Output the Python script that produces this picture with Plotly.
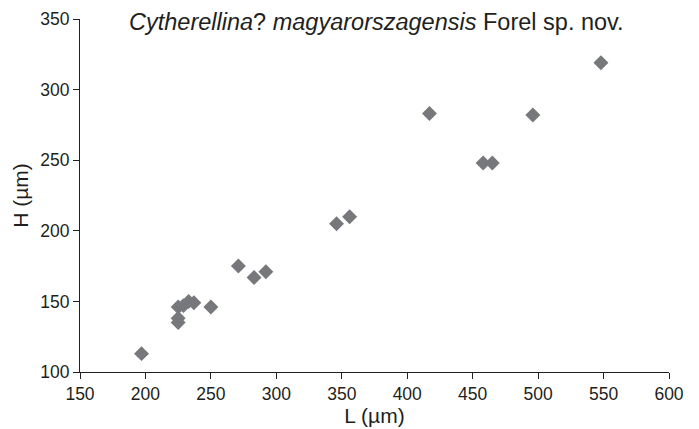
import plotly.graph_objects as go

# Data
L_um = [197, 225, 229, 233, 237, 225, 225, 250, 271, 283, 292, 346, 356, 417, 458, 465, 496, 548]
H_um = [113, 146, 147, 150, 149, 138, 135, 146, 175, 167, 171, 205, 210, 283, 248, 248, 282, 319]

x_ticks = [150, 200, 250, 300, 350, 400, 450, 500, 550, 600]
y_ticks = [100, 150, 200, 250, 300, 350]

title_html = "<i>Cytherellina</i>? <i>magyarorszagensis</i> Forel sp. nov."
x_title = "L (µm)"
y_title = "H (µm)"

FONT = "Liberation Sans, Arial, sans-serif"
TEXT = "#231f20"

fig = go.Figure(
    go.Scatter(
        x=L_um, y=H_um, mode="markers",
        marker=dict(symbol="diamond", size=11.5, color="#77787b", line=dict(width=0)),
        showlegend=False,
    )
)

axis_common = dict(
    showgrid=False, zeroline=False, showline=True, linecolor=TEXT, linewidth=1,
    ticks="outside", ticklen=6, tickwidth=1, tickcolor=TEXT,
    tickfont=dict(family=FONT, size=17.5, color=TEXT),
    title_font=dict(family=FONT, size=21, color=TEXT),
    automargin=False,
)

fig.update_xaxes(range=[150, 600], tickvals=x_ticks, title=dict(text=x_title, standoff=3), **axis_common)
fig.update_yaxes(range=[100, 350], tickvals=y_ticks, title=dict(text=y_title, standoff=5), **axis_common)

fig.add_annotation(
    text=title_html, xref="paper", yref="paper", x=0.503, y=0.992,
    xanchor="center", yanchor="middle", showarrow=False,
    font=dict(family=FONT, size=23.5, color=TEXT),
)

# page body adds an 8px offset; size/margins compensate for it
fig.update_layout(
    width=691, height=421,
    margin=dict(l=72, r=30, t=11, b=57),
    paper_bgcolor="white", plot_bgcolor="white",
)

fig.write_html("out.html")
